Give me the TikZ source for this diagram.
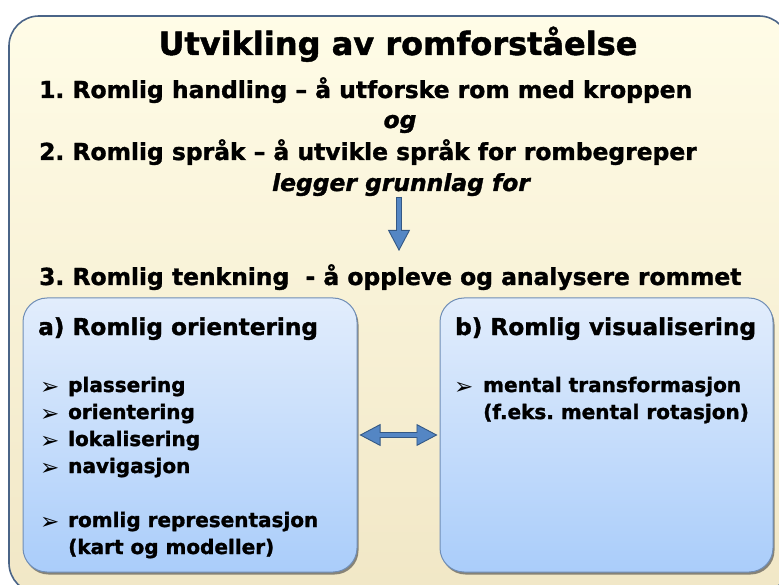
\documentclass[tikz,border=0pt]{standalone}
\usepackage{fontspec}
\setmainfont{DejaVu Sans}[BoldFeatures={FakeBold=1.4},BoldItalicFeatures={FakeBold=1.4}]
\frenchspacing
\usetikzlibrary{arrows.meta,shadows}
\definecolor{outerTop}{RGB}{255,252,231}
\definecolor{outerBot}{RGB}{241,231,198}
\definecolor{outerLine}{RGB}{74,100,135}
\definecolor{boxTop}{RGB}{226,237,252}
\definecolor{boxBot}{RGB}{170,205,250}
\definecolor{boxLine}{RGB}{112,142,182}
\definecolor{arrFill}{RGB}{84,134,196}
\definecolor{arrLine}{RGB}{52,88,132}
\begin{document}
\begin{tikzpicture}[x=1pt,y=-1pt,
  outerbox/.style={draw=outerLine,line width=1.6pt,rounded corners=30pt,top color=outerTop,bottom color=outerBot},
  innerbox/.style={draw=boxLine,line width=1pt,rounded corners=24pt,top color=boxTop,bottom color=boxBot,
     drop shadow={shadow xshift=1.5pt,shadow yshift=-2.5pt,opacity=.6,fill=black!75},inner sep=0pt},
  titletext/.style={inner sep=0pt,anchor=base,font=\fontsize{32}{36}\selectfont\bfseries},
  linetext/.style={inner sep=0pt,anchor=base west,font=\fontsize{23.4}{28}\selectfont\bfseries},
  midtext/.style={inner sep=0pt,anchor=base,font=\fontsize{23.4}{28}\selectfont\bfseries\itshape},
  boxtitle/.style={inner sep=0pt,anchor=base west,font=\fontsize{23.2}{28}\selectfont\bfseries},
  itemtext/.style={inner sep=0pt,anchor=base west,font=\fontsize{20}{24}\selectfont\bfseries},
  bullet/.style={inner sep=0pt,anchor=base west,font=\fontsize{23}{26}\selectfont},
  arrowout/.style={draw=arrLine,line width=6pt},
  arrowin/.style={draw=arrFill,line width=3.6pt},
  bigtip/.tip={Triangle[length=21pt,width=22pt,line width=0.9pt,fill=arrFill,color=arrLine]}
]
\useasboundingbox (0,0) rectangle (779,585);
\path[outerbox] (9,16) rectangle (789,593);

\node[titletext] (title) at (398,55) {Utvikling av romforståelse};
\node[linetext] (l1) at (39,98) {1. Romlig handling – å utforske rom med kroppen};
\node[midtext] (og) at (400,128) {og};
\node[linetext] (l2) at (39,160) {2. Romlig språk – å utvikle språk for rombegreper};
\node[midtext] (lg) at (401,191) {legger grunnlag for};
\node[linetext] (l3) at (39,285) {3. Romlig tenkning\ \ - å oppleve og analysere rommet};

\node[innerbox,minimum width=334pt,minimum height=274pt] (boxa) at (190,435) {};
\node[innerbox,minimum width=333pt,minimum height=274pt] (boxb) at (606.5,435) {};

\node[boxtitle] (ta) at (38,335) {a) Romlig orientering};
\node[boxtitle] (tb) at (455,335) {b) Romlig visualisering};

\node[bullet] (b1) at (40,394) {➢};
\node[itemtext] (i1) at (68,392) {plassering};
\node[bullet] (b2) at (40,421) {➢};
\node[itemtext] (i2) at (68,419) {orientering};
\node[bullet] (b3) at (40,448) {➢};
\node[itemtext] (i3) at (68,446) {lokalisering};
\node[bullet] (b4) at (40,475) {➢};
\node[itemtext] (i4) at (68,473) {navigasjon};
\node[bullet] (b5) at (40,529) {➢};
\node[itemtext] (i5) at (68,527) {romlig representasjon};
\node[itemtext] (i6) at (68,554) {(kart og modeller)};

\node[bullet] (b6) at (454,394) {➢};
\node[itemtext] (j1) at (483,392) {mental transformasjon};
\node[itemtext] (j2) at (483,419) {(f.eks. mental rotasjon)};

\coordinate (dstart) at (399,197);
\coordinate (dend) at (399,251);
\draw[arrowout,-bigtip] (dstart) -- (dend);
\draw[arrowin,shorten <=0.8pt,shorten >=20pt] (dstart) -- (dend);

\draw[arrowout,bigtip-bigtip,shorten <=2pt,shorten >=2pt] (boxa.east) -- (boxb.west);
\draw[arrowin,shorten <=21pt,shorten >=21pt] (boxa.east) -- (boxb.west);
\end{tikzpicture}
\end{document}
